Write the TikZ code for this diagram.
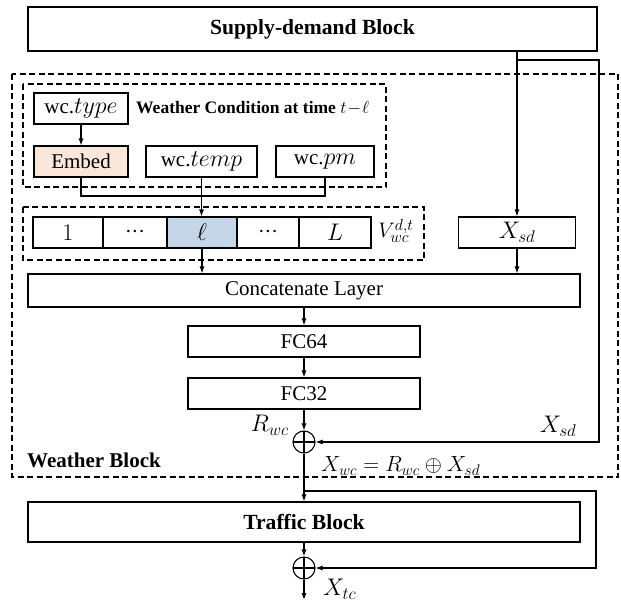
\documentclass[tikz,border=0pt]{standalone}
\usepackage{fix-cm}
\usepackage{fontspec}
\setmainfont{Liberation Serif}
\DeclareMathSizes{21}{24}{17}{12}
\DeclareMathSizes{19}{21}{16}{12}
\usetikzlibrary{arrows.meta,calc}
\definecolor{embedfill}{RGB}{250,231,217}
\definecolor{cellfill}{RGB}{196,214,232}
\begin{document}
\begin{tikzpicture}[x=1pt,y=-1pt,
  box/.style={draw,line width=1.1pt,inner sep=0pt,font=\fontsize{21}{25}\selectfont},
  dbox/.style={draw,line width=1.1pt,dash pattern=on 6pt off 3.5pt},
  conn/.style={line width=1.1pt},
  arr/.style={line width=1.1pt,-{Latex[length=7pt,width=5pt]}},
  oplus/.style={circle,draw,line width=1.1pt,minimum size=22pt,inner sep=0pt,
    path picture={\draw[line width=1.1pt] (path picture bounding box.north) -- (path picture bounding box.south)
      (path picture bounding box.west) -- (path picture bounding box.east);}},
  lbl/.style={inner sep=0pt,font=\fontsize{21}{25}\selectfont}
]
\useasboundingbox (0,0) rectangle (621,606);

% dashed frames
\draw[dbox] (12,74) rectangle (618,477);
\draw[dbox] (23,84) rectangle (386,187);
\draw[dbox] (23,207) rectangle (424,260);

% nodes
\node[box,minimum width=569pt,minimum height=44pt,font=\fontsize{21.6}{25}\selectfont\bfseries] (sd) at (312.5,29) {Supply-demand Block};
\node[box,minimum width=94pt,minimum height=31pt] (wtype) at (81,108.5) {wc.$type$};
\node[lbl,anchor=west,font=\fontsize{17.5}{20}\selectfont\bfseries] (title) at (136,108) {Weather Condition at time $t\!-\!\ell$};
\node[box,fill=embedfill,minimum width=94pt,minimum height=31pt] (embed) at (81,161.5) {Embed};
\node[box,minimum width=111pt,minimum height=31pt] (wtemp) at (201.5,161.5) {wc.$temp$};
\node[box,minimum width=98pt,minimum height=31pt] (wpm) at (325,161.5) {wc.$pm$};

\node[box,minimum width=70pt,minimum height=31pt] (c1) at (68,232.5) {$1$};
\node[box,minimum width=64pt,minimum height=31pt] (c2) at (135,232.5) {${\cdot}{\cdot}{\cdot}$};
\node[box,fill=cellfill,minimum width=70pt,minimum height=31pt] (c3) at (202,232.5) {$\ell$};
\node[box,minimum width=62pt,minimum height=31pt] (c4) at (268,232.5) {${\cdot}{\cdot}{\cdot}$};
\node[box,minimum width=72pt,minimum height=31pt] (c5) at (335,232.5) {$L$};
\node[lbl,font=\fontsize{19}{23}\selectfont] (vlab) at (396,231) {$V_{wc}^{d,t}$};

\node[box,minimum width=117pt,minimum height=31pt] (xsd) at (517,232.5) {$X_{sd}$};
\node[box,minimum width=552pt,minimum height=33pt] (concat) at (304,290.5) {Concatenate Layer};
\node[box,minimum width=232pt,minimum height=31pt] (fc64) at (304,341.5) {FC64};
\node[box,minimum width=232pt,minimum height=31pt] (fc32) at (304,393.5) {FC32};
\node[oplus] (plus1) at (304,442) {};
\node[box,minimum width=552pt,minimum height=40pt,font=\fontsize{21.6}{25}\selectfont\bfseries] (traffic) at (304,522) {Traffic Block};
\node[oplus] (plus2) at (304,568) {};

% labels
\node[lbl,anchor=east] (rwc) at (289,425) {$R_{wc}$};
\node[lbl] (xsdl) at (558,426) {$X_{sd}$};
\node[lbl,anchor=west,font=\fontsize{21}{25}\selectfont\bfseries] (wblk) at (27,460) {Weather Block};
\node[lbl,anchor=west,font=\fontsize{22}{26}\selectfont] (xwc) at (321,466) {$X_{wc}=R_{wc}\oplus X_{sd}$};
\node[lbl,anchor=west] (xtc) at (323,589) {$X_{tc}$};

% coordinates
\coordinate (br1) at (517,60);
\coordinate (fb1) at (599,442);
\coordinate (br2) at (304,491);
\coordinate (fb2) at (596,568);
\coordinate (out) at (304,600);
\coordinate (jn) at (81,196);

% connectors
\draw[arr] (wtype.south) -- (embed.north);
\draw[conn] (embed.south) |- (jn -| wpm.south) -- (wpm.south);
\draw[arr] (wtemp.south) -- (wtemp.south |- c3.north);
\draw[arr] (c3.south) -- (c3.south |- concat.north);
\draw[arr] (sd.south -| xsd.north) -- (xsd.north);
\draw[arr] (br1) -| (fb1) -- (plus1.east);
\draw[arr] (xsd.south) -- (xsd.south |- concat.north);
\draw[arr] (concat.south) -- (fc64.north);
\draw[arr] (fc64.south) -- (fc32.north);
\draw[arr] (fc32.south) -- (plus1.north);
\draw[arr] (plus1.south) -- (traffic.north);
\draw[arr] (br2) -| (fb2) -- (plus2.east);
\draw[arr] (traffic.south) -- (plus2.north);
\draw[arr] (plus2.south) -- (out);
\end{tikzpicture}
\end{document}
